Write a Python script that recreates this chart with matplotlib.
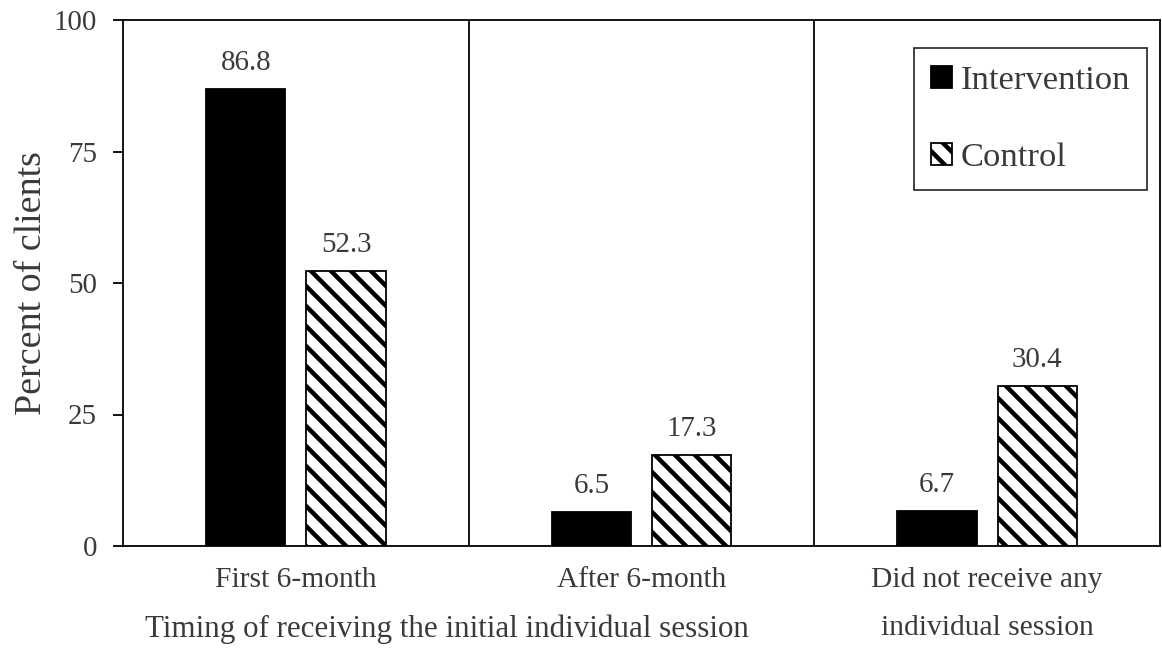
import matplotlib
matplotlib.use("Agg")
import matplotlib.pyplot as plt
import numpy as np

categories = ["First 6-month", "After 6-month", "Did not receive any\nindividual session"]
series_names = ["Intervention", "Control"]
intervention = [86.8, 6.5, 6.7]
control = [52.3, 17.3, 30.4]
y_ticks = [0, 25, 50, 75, 100]

# dpi picked so one hatch repeat is ~20 px, like the reference
DPI = 120


def pt(px):
    """pixel size -> points at DPI"""
    return px * 72.0 / DPI


plt.rcParams["font.family"] = ["Liberation Serif", "DejaVu Serif"]
plt.rcParams["hatch.linewidth"] = pt(4.5)
plt.rcParams["hatch.color"] = "black"
text_color = "#3a3a3a"

fig = plt.figure(figsize=(1162 / DPI, 658 / DPI), dpi=DPI)
ax = fig.add_axes([123 / 1162, 1 - 546 / 658, 1037 / 1162, 526 / 658])

x = np.arange(len(categories))
width = 0.23
offset = 0.145
lw = pt(1.8)

b1 = ax.bar(x - offset, intervention, width, color="black", edgecolor="black",
            linewidth=lw, label=series_names[0])
b2 = ax.bar(x + offset, control, width, color="white", edgecolor="black",
            linewidth=lw, hatch="\\\\", label=series_names[1])

for bars, vals in ((b1, intervention), (b2, control)):
    for rect, v in zip(bars, vals):
        ax.text(rect.get_x() + rect.get_width() / 2, v + 2.5, f"{v:.1f}",
                ha="center", va="bottom", fontsize=pt(29), color=text_color)

# group separators
for sep in (0.5, 1.5):
    ax.axvline(sep, color="black", linewidth=lw)

ax.set_xlim(-0.5, 2.5)
ax.set_ylim(0, 100)
ax.set_yticks(y_ticks)
ax.set_xticks(x)
ax.set_xticklabels(categories, fontsize=pt(29.5), color=text_color, linespacing=2.1)
ax.tick_params(axis="x", length=0, pad=pt(21))
ax.tick_params(axis="y", direction="out", length=pt(10), width=lw, labelsize=pt(29),
               labelcolor=text_color, pad=pt(16))
for s in ax.spines.values():
    s.set_linewidth(lw)

ax.set_ylabel("Percent of clients", fontsize=pt(38), color=text_color, labelpad=pt(5))
ax.text(0.312, -(637 - 546) / 526, "Timing of receiving the initial individual session",
        transform=ax.transAxes, ha="center", va="baseline", fontsize=pt(31),
        color=text_color)

leg = ax.legend(loc="upper right", bbox_to_anchor=((1147 - 123) / 1037, (546 - 48) / 526),
                fontsize=pt(34.5), frameon=True, fancybox=False, edgecolor="black",
                handlelength=0.6, handleheight=0.6, handletextpad=0.25,
                labelspacing=1.35, borderpad=0.5, borderaxespad=0, labelcolor=text_color)
leg.get_frame().set_linewidth(lw)

fig.savefig("out.png", dpi=DPI)
